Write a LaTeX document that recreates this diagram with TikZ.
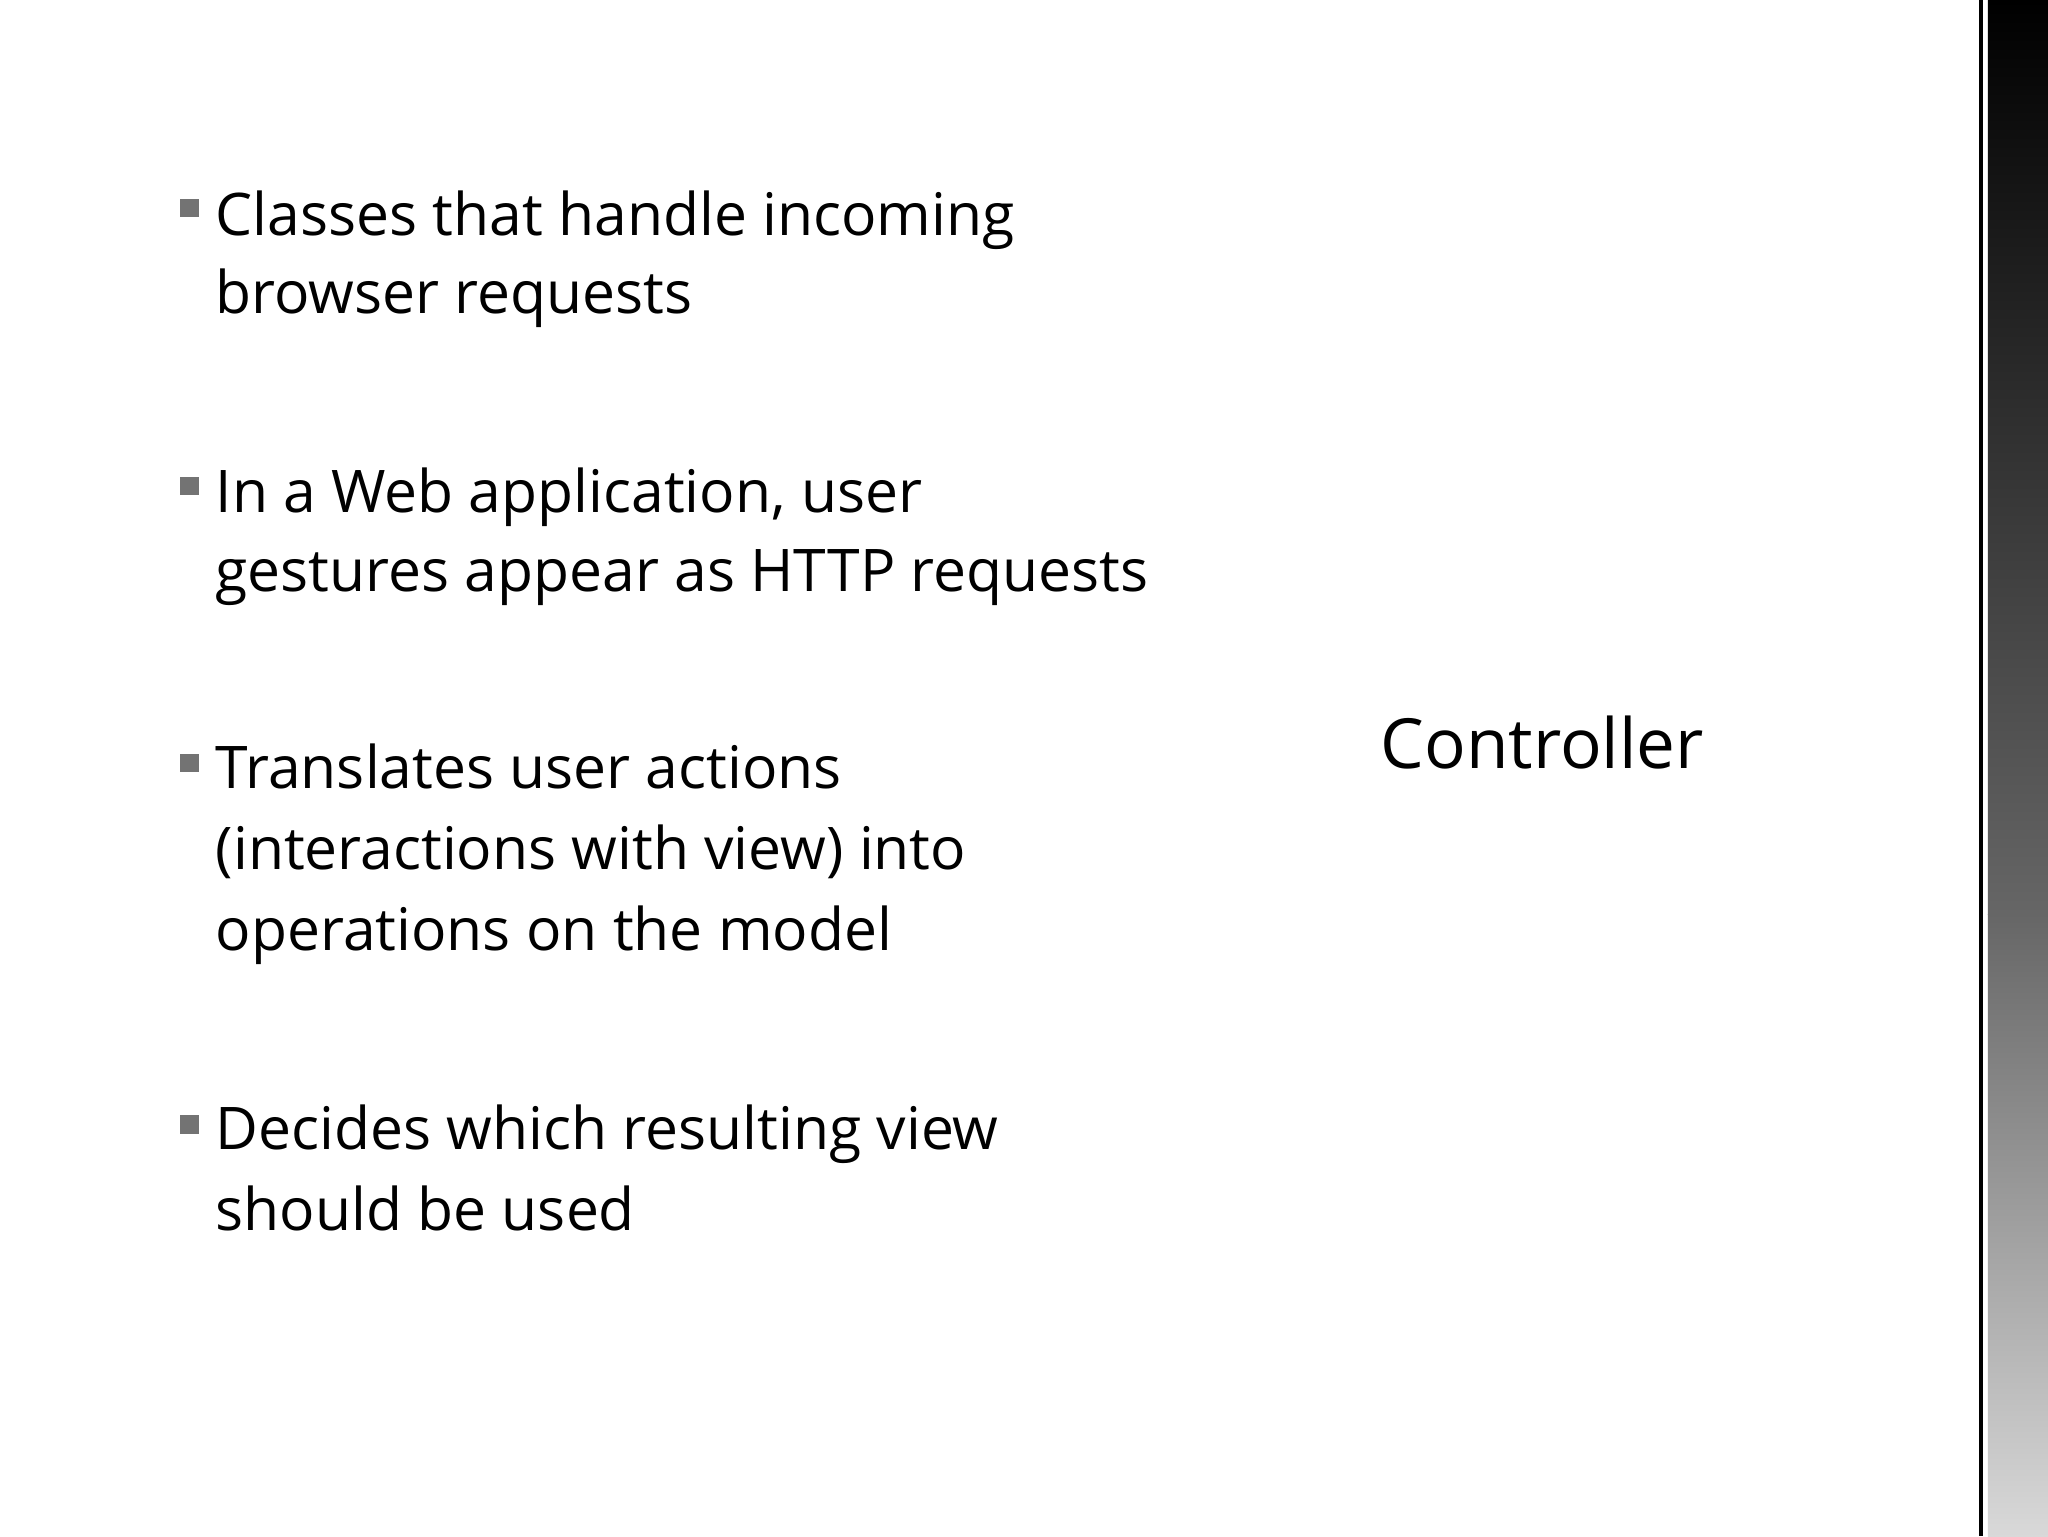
\documentclass[tikz,border=0pt]{standalone}
\usepackage{fontspec}
\setmainfont{Open Sans}
\begin{document}
\begin{tikzpicture}[x=1pt,y=-1pt,
  txt/.style={anchor=base west,inner sep=0pt,font=\fontsize{45}{54}\selectfont},
  bul/.style={fill=gray!90!black,draw=none}]
\useasboundingbox (0,0) rectangle (1568,1176);
\fill[white] (0,0) rectangle (1568,1176);
% right decorative strip
\shade[top color=black,bottom color=black!60] (1522,0) rectangle (1568,700);
\shade[top color=black!60,bottom color=black!15] (1522,700) rectangle (1568,1176);
\fill[black] (1515,0) rectangle (1518,1176);
% bullets
\foreach \y in {159,372,584,861}
  \fill[bul] (138,\y-7) rectangle (152,\y+7);
\node[txt] (l1) at (165,180) {Classes that handle incoming};
\node[txt] (l2) at (165,240) {browser requests};
\node[txt] (l3) at (165,392) {In a Web application, user};
\node[txt] (l4) at (165,453) {gestures appear as HTTP requests};
\node[txt] (l5) at (165,604) {Translates user actions};
\node[txt] (l6) at (165,666) {(interactions with view) into};
\node[txt] (l7) at (165,728) {operations on the model};
\node[txt] (l8) at (165,880) {Decides which resulting view};
\node[txt] (l9) at (165,942) {should be used};
\node[anchor=base west,inner sep=0pt,font=\fontsize{53}{62}\selectfont] (c) at (1057,588) {Controller};
\end{tikzpicture}
\end{document}
